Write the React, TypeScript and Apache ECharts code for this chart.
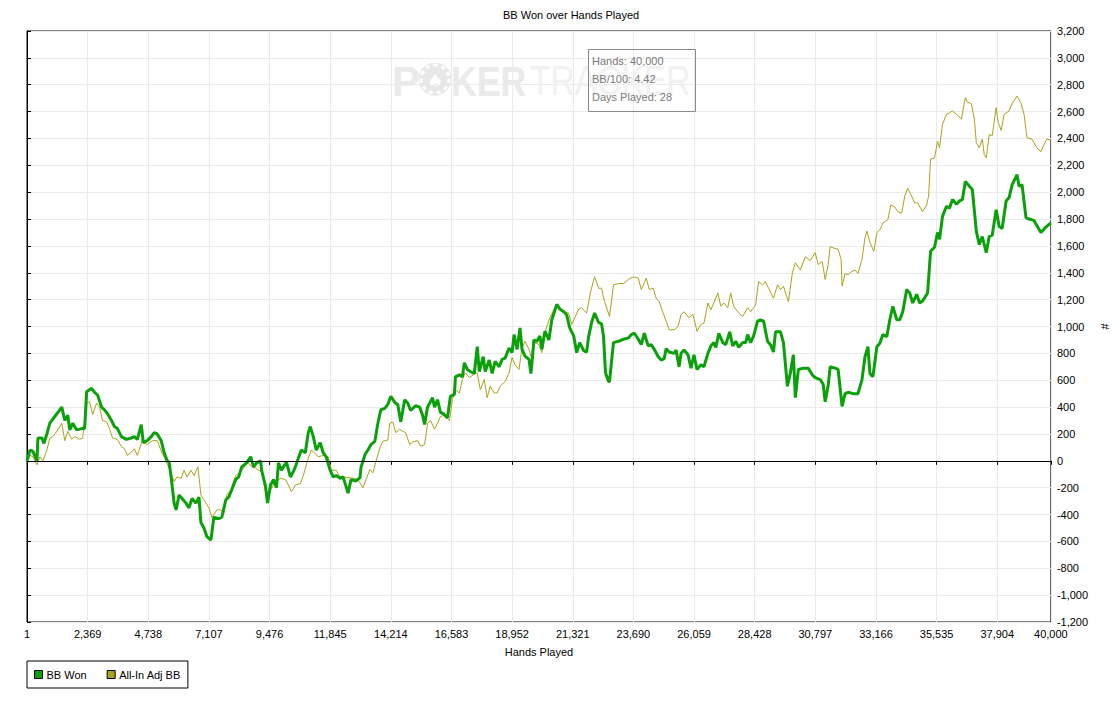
import React, { useEffect, useRef } from "react";
import * as echarts from "echarts";

const TITLE = "BB Won over Hands Played";
const X_NAME = "Hands Played";
const Y_NAME = "#";
const INFO_LINES = ["Hands: 40,000", "BB/100: 4.42", "Days Played: 28"];
const SERIES_NAMES = ["BB Won", "All-In Adj BB"];
const SERIES_COLORS = ["#0aa00a", "#aaa21e"];

// [hands played, big blinds]
const bbWon: [number, number][] = [
[0,0],[116,80],[233,70],[388,0],[427,170],[582,170],[660,130],[777,200],[893,280],[1087,330],[1281,380],[1359,400],[1476,300],[1592,340],[1670,230],[1786,280],[1942,230],[2136,240],[2252,240],[2330,515],[2524,540],[2640,510],[2757,490],[2912,400],[3029,380],[3145,350],[3301,300],[3417,255],[3534,240],[3689,180],[3883,160],[4077,170],[4194,180],[4310,160],[4465,270],[4543,135],[4698,150],[4854,180],[4970,210],[5087,200],[5242,150],[5359,60],[5475,0],[5553,-10],[5630,-120],[5747,-315],[5825,-365],[5941,-255],[6058,-280],[6213,-315],[6329,-350],[6446,-280],[6601,-315],[6718,-270],[6795,-460],[6912,-500],[7028,-565],[7184,-590],[7300,-420],[7494,-430],[7611,-420],[7766,-290],[7882,-270],[7999,-215],[8154,-140],[8271,-120],[8387,-45],[8581,-15],[8737,30],[8853,-45],[8970,-15],[9125,0],[9164,-70],[9319,-190],[9397,-315],[9513,-180],[9630,-140],[9746,-200],[9824,-15],[9941,-70],[10018,-45],[10135,-10],[10290,-120],[10406,-80],[10484,-45],[10601,20],[10717,80],[10872,60],[10989,210],[11067,255],[11183,180],[11300,80],[11455,135],[11571,60],[11688,30],[11843,-70],[11960,-120],[12076,-110],[12231,-130],[12348,-120],[12464,-190],[12542,-240],[12659,-140],[12853,-150],[13008,-125],[13047,-50],[13202,45],[13318,80],[13435,120],[13590,145],[13707,280],[13823,380],[13979,390],[14095,420],[14212,480],[14367,435],[14484,420],[14600,290],[14755,455],[14872,430],[14988,375],[15182,410],[15337,400],[15454,340],[15532,270],[15648,400],[15843,470],[15920,400],[16037,455],[16153,360],[16270,350],[16425,320],[16541,480],[16697,495],[16736,625],[16891,640],[17008,625],[17085,730],[17202,680],[17318,665],[17474,650],[17590,850],[17668,665],[17823,775],[17901,665],[18056,750],[18173,650],[18289,740],[18445,700],[18561,755],[18678,765],[18833,840],[18950,805],[19027,940],[19144,830],[19260,990],[19338,830],[19454,780],[19610,755],[19688,650],[19804,900],[19920,890],[20037,930],[20115,830],[20231,965],[20387,900],[20503,1050],[20697,1165],[20814,1130],[20969,1110],[21086,1085],[21202,990],[21358,930],[21474,805],[21590,880],[21746,820],[21862,810],[21940,925],[22057,1030],[22174,1100],[22329,1030],[22445,1020],[22523,925],[22600,655],[22717,590],[22756,590],[22911,880],[23105,890],[23299,905],[23494,915],[23610,940],[23727,950],[23882,905],[23998,865],[24115,950],[24270,855],[24386,865],[24503,830],[24658,775],[24775,750],[24891,760],[24969,835],[25085,810],[25280,800],[25357,825],[25474,700],[25551,800],[25668,825],[25823,790],[25940,690],[26056,790],[26173,680],[26328,715],[26445,700],[26600,800],[26716,855],[26833,880],[26911,845],[27027,950],[27181,880],[27298,865],[27453,960],[27570,855],[27687,890],[27803,845],[27958,880],[28075,880],[28153,940],[28269,880],[28386,930],[28541,1040],[28658,1050],[28774,1040],[28930,890],[29046,865],[29162,810],[29241,960],[29435,960],[29551,880],[29706,555],[29823,655],[29939,790],[30017,470],[30133,680],[30328,690],[30522,690],[30677,640],[30793,620],[30988,605],[31104,570],[31181,440],[31298,560],[31376,700],[31570,690],[31687,680],[31842,405],[31958,500],[32075,510],[32270,500],[32464,500],[32620,605],[32736,775],[32852,850],[32930,650],[33046,625],[33202,850],[33318,875],[33435,940],[33590,925],[33707,1050],[33823,1150],[33979,1050],[34095,1050],[34212,1110],[34367,1275],[34484,1250],[34600,1175],[34756,1240],[34872,1175],[34988,1190],[35183,1250],[35299,1560],[35454,1590],[35570,1700],[35649,1650],[35765,1820],[35921,1895],[36037,1880],[36154,1945],[36309,1910],[36426,1935],[36542,1945],[36658,2080],[36813,2045],[36930,2020],[37085,1710],[37202,1610],[37318,1670],[37474,1550],[37590,1670],[37707,1680],[37862,1870],[37979,1745],[38095,1730],[38251,1935],[38367,1960],[38484,2055],[38678,2130],[38756,2045],[38872,2055],[39027,1810],[39144,1800],[39338,1790],[39610,1700],[39804,1740],[39921,1760],[40000,1770]
];

// [hands played, all-in adjusted big blinds]
const allInAdjBB: [number, number][] = [
[0,0],[116,40],[233,30],[388,-30],[505,30],[621,0],[777,80],[893,170],[1010,180],[1204,230],[1359,280],[1476,150],[1592,220],[1747,160],[1864,180],[2058,160],[2175,170],[2330,430],[2446,440],[2563,345],[2718,430],[2835,400],[2951,300],[3106,290],[3223,240],[3339,170],[3534,160],[3689,105],[3805,90],[3922,40],[4077,65],[4194,90],[4310,40],[4504,150],[4698,120],[4893,150],[5087,150],[5281,55],[5436,0],[5630,-95],[5747,-155],[5863,-120],[6019,-130],[6135,-70],[6252,-120],[6407,-70],[6524,-110],[6679,-45],[6795,-255],[6989,-315],[7106,-350],[7223,-420],[7417,-365],[7572,-365],[7689,-395],[7805,-255],[7960,-215],[8154,-110],[8271,-95],[8465,-55],[8581,0],[8776,-45],[8931,-55],[9047,-70],[9164,-80],[9358,-270],[9513,-215],[9708,-155],[9902,-130],[10096,-140],[10212,-180],[10329,-230],[10484,-180],[10678,-170],[10795,-110],[10989,20],[11106,80],[11261,55],[11377,30],[11571,40],[11766,30],[11882,-70],[12076,-70],[12231,-120],[12348,-120],[12542,-125],[12736,-130],[12930,-140],[13125,-200],[13241,-140],[13397,-65],[13513,-90],[13630,-5],[13785,95],[13901,145],[14095,155],[14173,280],[14290,290],[14406,210],[14561,235],[14678,220],[14794,210],[14950,120],[15066,140],[15260,150],[15376,110],[15532,120],[15648,280],[15765,300],[15920,235],[16037,280],[16153,330],[16309,340],[16503,300],[16619,455],[16736,530],[16891,505],[17008,605],[17124,655],[17280,620],[17474,645],[17590,655],[17707,530],[17862,605],[17978,470],[18095,555],[18250,505],[18367,505],[18483,555],[18678,590],[18833,655],[18950,770],[19066,715],[19221,680],[19338,840],[19454,890],[19610,830],[19726,755],[19843,880],[19998,865],[20115,805],[20231,955],[20425,1065],[20620,1140],[20775,1150],[20969,1110],[21163,1100],[21280,1015],[21552,1130],[21668,1140],[21862,1100],[22019,1260],[22174,1370],[22329,1285],[22445,1285],[22562,1185],[22756,1075],[22911,1310],[23105,1320],[23299,1320],[23494,1350],[23688,1370],[23882,1360],[23998,1275],[24192,1360],[24309,1275],[24464,1285],[24580,1210],[24697,1185],[24852,1100],[24969,1040],[25085,975],[25280,975],[25435,1000],[25551,1090],[25668,1110],[25862,1065],[26017,1090],[26173,965],[26328,1015],[26445,1025],[26600,1175],[26716,1125],[26833,1175],[26988,1250],[27104,1150],[27220,1175],[27376,1140],[27492,1250],[27609,1150],[27803,1100],[27958,1075],[28153,1140],[28269,1110],[28463,1160],[28580,1335],[28735,1310],[28852,1335],[28969,1285],[29162,1210],[29318,1310],[29435,1275],[29551,1300],[29745,1185],[29901,1400],[30017,1475],[30211,1420],[30405,1520],[30600,1490],[30793,1550],[30910,1460],[31064,1485],[31181,1350],[31298,1460],[31376,1595],[31492,1585],[31687,1575],[31803,1500],[31842,1300],[31958,1395],[32075,1385],[32230,1410],[32347,1420],[32464,1395],[32620,1500],[32736,1660],[32813,1710],[32930,1625],[33085,1560],[33202,1700],[33318,1720],[33435,1770],[33629,1795],[33745,1905],[33901,1890],[34017,1855],[34172,1845],[34289,1970],[34405,2030],[34561,1970],[34678,1920],[34794,1920],[34988,1855],[35144,1905],[35222,1970],[35299,2245],[35454,2255],[35570,2380],[35649,2330],[35765,2505],[35921,2580],[36037,2590],[36154,2605],[36309,2580],[36503,2545],[36658,2705],[36736,2670],[36891,2660],[37008,2545],[37085,2370],[37202,2330],[37318,2395],[37396,2280],[37474,2255],[37590,2430],[37707,2420],[37862,2630],[37940,2520],[38056,2460],[38173,2580],[38367,2605],[38484,2660],[38678,2715],[38833,2660],[38950,2580],[39066,2405],[39260,2395],[39454,2330],[39610,2300],[39726,2355],[39843,2395],[40000,2390]
];

const X_MIN = 0;
const X_MAX = 40000;
const X_STEP = 2369;
const Y_MIN = -1200;
const Y_MAX = 3200;
const Y_STEP = 200;

const FONT = "'Liberation Sans', Arial, sans-serif";

export default function App() {
  const ref = useRef<HTMLDivElement>(null);

  useEffect(() => {
    if (!ref.current) return;
    const chart = echarts.init(ref.current, undefined, { renderer: "svg" });
    const fmt = (v: number) => Math.round(v).toLocaleString("en-US");

    chart.setOption({
      animation: false,
      backgroundColor: "#ffffff",
      textStyle: { fontFamily: FONT, fontSize: 11, color: "#000" },
      title: {
        text: TITLE,
        left: 503,
        top: 9,
        padding: 0,
        textStyle: { fontFamily: FONT, fontSize: 11, fontWeight: "normal", color: "#000" },
      },
      legend: {
        data: SERIES_NAMES,
        left: 27,
        top: 661,
        orient: "horizontal",
        padding: [8, 7, 8, 7],
        borderColor: "#000",
        borderWidth: 1,
        itemWidth: 8,
        itemHeight: 8,
        itemGap: 20,
        icon: "rect",
        itemStyle: { borderColor: "#000", borderWidth: 1 },
        textStyle: { fontFamily: FONT, fontSize: 11, color: "#000", padding: [0, 0, 0, -1] },
        selectedMode: false,
      },
      grid: {
        left: 27,
        top: 31,
        width: 1030,
        height: 591,
        show: true,
        borderColor: "#000",
        borderWidth: 1,
        backgroundColor: "transparent",
        containLabel: false,
      },
      xAxis: {
        type: "value",
        min: X_MIN,
        max: X_MAX,
        interval: X_STEP,
        name: X_NAME,
        nameLocation: "middle",
        nameGap: 24,
        nameTextStyle: { fontFamily: FONT, fontSize: 11, color: "#000" },
        axisLine: { show: true, lineStyle: { color: "#000", width: 1 } },
        axisTick: { show: true, length: 4, lineStyle: { color: "#000" } },
        axisLabel: {
          interval: 0,
          margin: 6,
          color: "#000",
          fontSize: 11,
          fontFamily: FONT,
          formatter: (v: number) => (v === 0 ? "1" : fmt(v)),
        },
        splitLine: { show: true, lineStyle: { color: "#ebebeb", width: 1 } },
      },
      yAxis: {
        type: "value",
        position: "right",
        min: Y_MIN,
        max: Y_MAX,
        interval: Y_STEP,
        name: Y_NAME,
        nameLocation: "middle",
        nameGap: 46,
        nameTextStyle: { fontFamily: FONT, fontSize: 11, color: "#000" },
        axisLine: { show: true, lineStyle: { color: "#000", width: 1 } },
        axisTick: { show: true, length: 4, lineStyle: { color: "#000" } },
        axisLabel: {
          margin: 6,
          color: "#000",
          fontSize: 11,
          fontFamily: FONT,
          formatter: (v: number) => fmt(v),
        },
        splitLine: { show: true, lineStyle: { color: "#ebebeb", width: 1 } },
      },
      graphic: [
        {
          type: "text",
          x: 392,
          y: 81,
          z: 1,
          silent: true,
          style: {
            text: "P",
            font: `bold 42px ${FONT}`,
            fill: "#eaeaea",
            textAlign: "left",
            textVerticalAlign: "middle",
            align: "left",
            verticalAlign: "middle",
          },
        },
        {
          type: "circle",
          z: 1,
          silent: true,
          shape: { cx: 435, cy: 79, r: 16.5 },
          style: { fill: "#e8e8e8" },
        },
        {
          type: "circle",
          z: 1,
          silent: true,
          shape: { cx: 435, cy: 79, r: 14 },
          style: { fill: "none", stroke: "#ffffff", lineWidth: 3, lineDash: [4, 4] },
        },
        {
          type: "text",
          x: 435,
          y: 80,
          z: 1,
          silent: true,
          style: {
            text: "\u2660",
            font: `18px 'DejaVu Sans', sans-serif`,
            fill: "#ffffff",
            textAlign: "center",
            textVerticalAlign: "middle",
            align: "center",
            verticalAlign: "middle",
          },
        },
        {
          type: "text",
          x: 451,
          y: 81,
          z: 1,
          scaleX: 0.85,
          silent: true,
          style: {
            text: "KER",
            font: `bold 42px ${FONT}`,
            fill: "#eaeaea",
            textAlign: "left",
            textVerticalAlign: "middle",
            align: "left",
            verticalAlign: "middle",
          },
        },
        {
          type: "text",
          x: 530,
          y: 81,
          z: 1,
          scaleX: 0.8,
          silent: true,
          style: {
            text: "TRACKER",
            font: `42px ${FONT}`,
            fill: "#f1f1f1",
            textAlign: "left",
            textVerticalAlign: "middle",
            align: "left",
            verticalAlign: "middle",
          },
        },
        {
          type: "rect",
          z: 5,
          silent: true,
          shape: { x: 588.5, y: 49.5, width: 107, height: 62 },
          style: { fill: "none", stroke: "#8a8a8a", lineWidth: 1 },
        },
        ...INFO_LINES.map((t, i) => ({
          type: "text",
          x: 592,
          y: 61 + i * 18.2,
          z: 5,
          silent: true,
          style: {
            text: t,
            font: `11px ${FONT}`,
            fill: "#7a7a7a",
            textAlign: "left",
            textVerticalAlign: "middle",
            align: "left",
            verticalAlign: "middle",
          },
        })),
      ],
      series: [
        {
          name: SERIES_NAMES[0],
          type: "line",
          data: bbWon,
          showSymbol: false,
          symbol: "none",
          z: 4,
          color: SERIES_COLORS[0],
          lineStyle: { color: SERIES_COLORS[0], width: 3 },
        },
        {
          name: SERIES_NAMES[1],
          type: "line",
          data: allInAdjBB,
          showSymbol: false,
          symbol: "none",
          z: 3,
          color: SERIES_COLORS[1],
          lineStyle: { color: SERIES_COLORS[1], width: 1 },
          markLine: {
            silent: true,
            symbol: "none",
            label: { show: false },
            lineStyle: { color: "#000", width: 1, type: "solid" },
            data: [{ yAxis: 0 }],
          },
        },
      ],
    });

    return () => chart.dispose();
  }, []);

  return (
    <div
      ref={ref}
      style={{ position: "fixed", left: 0, top: 0, width: 1118, height: 702, background: "#fff" }}
    />
  );
}
